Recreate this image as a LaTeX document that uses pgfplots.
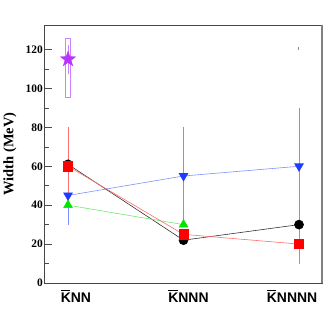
\documentclass[border=0pt]{standalone}
\usepackage{fontspec}
\setmainfont{Liberation Serif}
\newfontfamily\arialf{Liberation Sans}
\usepackage{pgfplots}
\pgfplotsset{compat=1.18}
\usepackage{pgfplotstable}
\usetikzlibrary{plotmarks}
\definecolor{cred}{RGB}{255,0,0}
\definecolor{credl}{RGB}{255,110,110}
\definecolor{cblue}{RGB}{30,60,255}
\definecolor{cbluel}{RGB}{125,145,255}
\definecolor{cgreen}{RGB}{0,230,0}
\definecolor{cgreenl}{RGB}{110,235,110}
\definecolor{cstar}{RGB}{185,50,255}
\definecolor{cstarl}{RGB}{205,130,255}
\pgfdeclareplotmark{fstar}{%
  \pgfpathmoveto{\pgfpointpolar{90}{\pgfplotmarksize}}%
  \pgfpathlineto{\pgfpointpolar{126}{0.4\pgfplotmarksize}}%
  \pgfpathlineto{\pgfpointpolar{162}{\pgfplotmarksize}}%
  \pgfpathlineto{\pgfpointpolar{198}{0.4\pgfplotmarksize}}%
  \pgfpathlineto{\pgfpointpolar{234}{\pgfplotmarksize}}%
  \pgfpathlineto{\pgfpointpolar{270}{0.4\pgfplotmarksize}}%
  \pgfpathlineto{\pgfpointpolar{306}{\pgfplotmarksize}}%
  \pgfpathlineto{\pgfpointpolar{342}{0.4\pgfplotmarksize}}%
  \pgfpathlineto{\pgfpointpolar{18}{\pgfplotmarksize}}%
  \pgfpathlineto{\pgfpointpolar{54}{0.4\pgfplotmarksize}}%
  \pgfpathclose\pgfusepathqfillstroke}
\newcommand\kb{\leavevmode\rlap{\rule[0.87em]{0.66em}{1.3pt}}K}
\pgfplotstableread{
x y e
0 45 15
1 55 25
2 60 30
}\blue
\pgfplotstableread{
x y
0 61
1 22
2 30
}\black
\pgfplotstableread{
x y
0 40
1 30
}\green
\pgfplotstableread{
x y e
0 60 20
1 25 0
2 20 10
}\red
\begin{document}
\begin{tikzpicture}
\begin{axis}[
  scale only axis, width=278bp, height=258bp,
  xmin=-0.208, xmax=2.199, ymin=0, ymax=132.6,
  xtick={0.068,1.043,1.94},
  xticklabels={\kb NN,\kb NNN,\kb NNNN},
  x tick label style={font=\arialf\fontsize{14}{14}\bfseries, anchor=north, yshift=-3bp},
  major x tick style={draw=none},
  ytick={0,20,...,120}, minor y tick num=1,
  y tick label style={font=\fontsize{11.5}{12}\bfseries, inner xsep=1pt},
  /pgf/number format/assume math mode=true,
  tick align=inside, ytick pos=left,
  major tick length=8bp, minor tick length=4.5bp,
  y tick style={draw=black!70, line width=0.6pt},
  axis line style={draw=black!72, line width=0.9pt},
  ylabel={Width (MeV)},
  ylabel style={font=\fontsize{14.5}{15}\bfseries, at={(axis description cs:-0.1223,0.5)}, anchor=center, rotate=0},
  clip=false,
]
\addplot[cbluel, line width=0.6pt, mark=triangle*, mark size=5bp, mark options={rotate=180, fill=cblue, draw=cblue},
  error bars/.cd, y dir=both, y explicit, error mark=none, error bar style={cbluel, line width=0.7pt}]
  table[x=x, y=y, y error=e]{\blue};
\addplot[black!80, line width=0.6pt, mark=*, mark size=4.5bp, mark options={fill=black, draw=black}] table[x=x,y=y]{\black};
\addplot[cgreenl, line width=0.6pt, mark=triangle*, mark size=5bp, mark options={fill=cgreen, draw=cgreen}] table[x=x,y=y]{\green};
\addplot[credl, line width=0.6pt, mark=square*, mark size=4.6bp, mark options={fill=cred, draw=cred},
  error bars/.cd, y dir=both, y explicit, error mark=none, error bar style={credl, line width=0.7pt}]
  table[x=x, y=y, y error=e]{\red};
\addplot[cstarl, line width=0.8pt, no marks] coordinates {(-0.026,95.5) (0.023,95.5) (0.023,125.5) (-0.026,125.5) (-0.026,95.5)};
\addplot[cstar, only marks, mark=fstar, mark size=8bp, mark options={fill=cstar, draw=cstar},
  error bars/.cd, y dir=both, y explicit, error mark=none, error bar style={cstarl, line width=0.8pt}]
  coordinates {(0,115) +- (0,7.5)};
\addplot[black!45, only marks, mark=|, mark size=1.2bp] coordinates {(1.99,120.5)};
\draw[black!50, line width=1.6pt] (rel axis cs:1,0) -- (rel axis cs:1,1);
\coordinate (sw) at (rel axis cs:0,0);
\coordinate (ne) at (rel axis cs:1,1);
\end{axis}
\pgfresetboundingbox
\path ([shift={(-44bp,-36bp)}]sw) rectangle ([shift={(10bp,25bp)}]ne);
\end{tikzpicture}
\end{document}
